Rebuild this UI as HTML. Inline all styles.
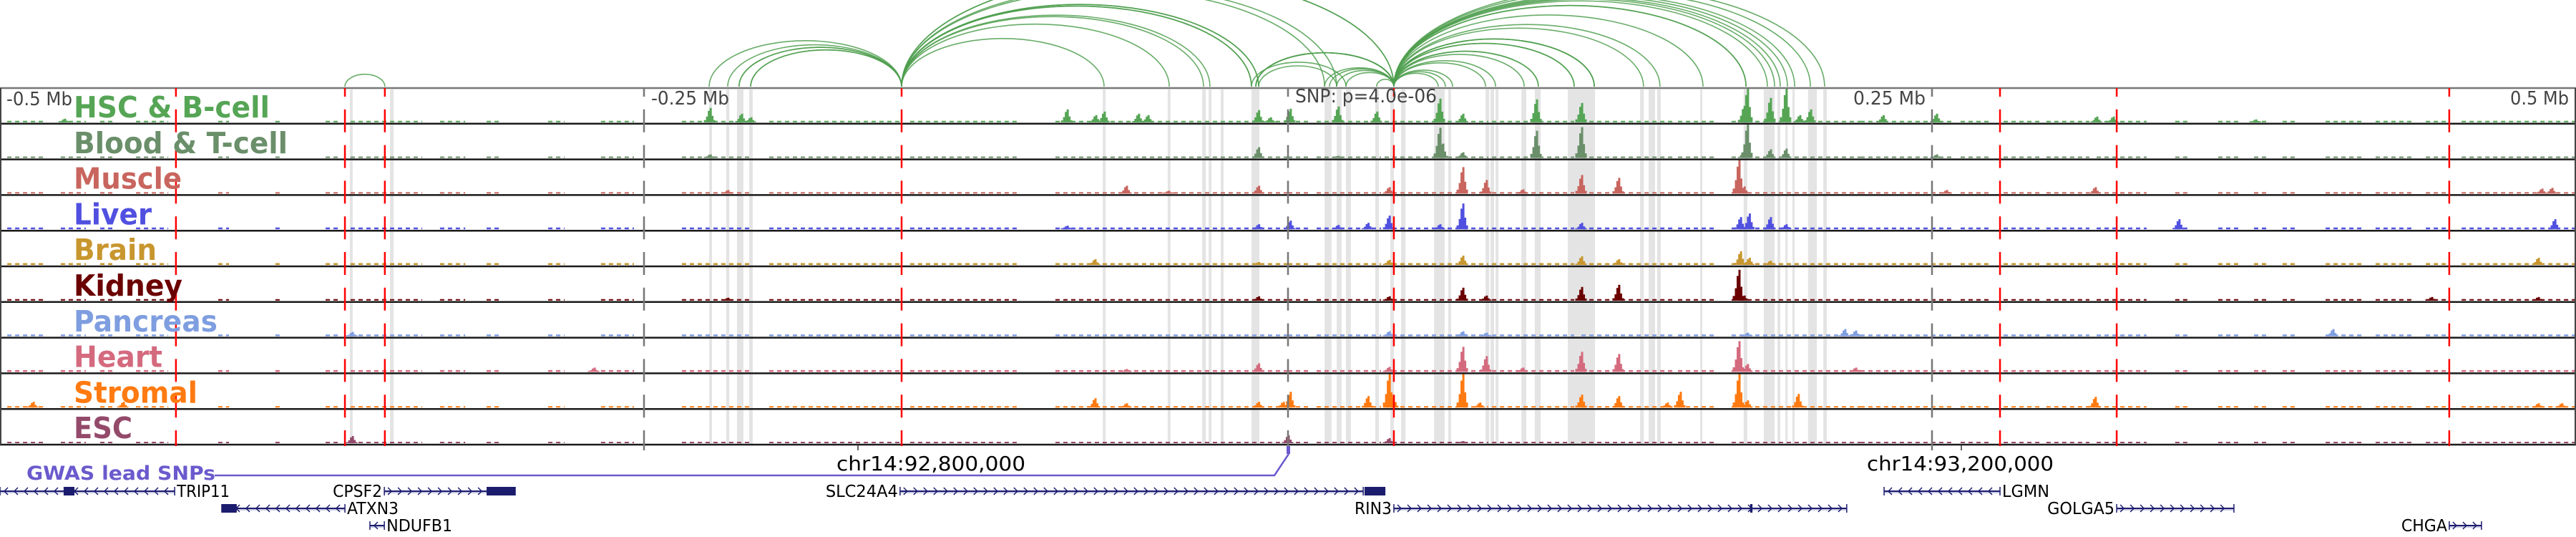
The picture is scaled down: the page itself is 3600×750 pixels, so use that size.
<!DOCTYPE html>
<html><head><meta charset="utf-8"><title>Genome browser tracks</title>
<style>
html,body{margin:0;padding:0;background:#fff;}
svg{display:block;}
.lbl{font-family:"DejaVu Sans","Liberation Sans",sans-serif;font-weight:bold;}
.ax{font-family:"DejaVu Sans Condensed","DejaVu Sans","Liberation Sans",sans-serif;fill:#444;}
.gn{font-family:"DejaVu Sans Condensed","DejaVu Sans","Liberation Sans",sans-serif;fill:#000;}
</style></head>
<body>
<svg id="chart" xmlns="http://www.w3.org/2000/svg" width="3600" height="750" viewBox="0 0 3600 750">
  <g id="arcs"></g>
  <g id="bands"></g>
  <g id="tracks"></g>
  <g id="frame"></g>
  <g id="vlines"></g>
  <g id="labels"></g>
  <g id="axis">
    <text class="ax" x="9" y="147" font-size="26" textLength="92" lengthAdjust="spacingAndGlyphs">-0.5 Mb</text>
    <text class="ax" x="910" y="146" font-size="26" textLength="109" lengthAdjust="spacingAndGlyphs">-0.25 Mb</text>
    <text class="ax" x="1810" y="143" font-size="26" textLength="198" lengthAdjust="spacingAndGlyphs">SNP: p=4.0e-06</text>
    <text class="ax" x="2590" y="146" font-size="26" textLength="101" lengthAdjust="spacingAndGlyphs">0.25 Mb</text>
    <text class="ax" x="3508" y="146" font-size="26" textLength="82" lengthAdjust="spacingAndGlyphs">0.5 Mb</text>
  </g>
  <g id="coords">
    <line x1="1199" y1="621" x2="1199" y2="629" stroke="#333" stroke-width="1.5"/>
    <text class="gn" x="1169" y="657" font-size="28" textLength="264" lengthAdjust="spacingAndGlyphs">chr14:92,800,000</text>
    <line x1="2741" y1="621" x2="2741" y2="629" stroke="#333" stroke-width="1.5"/>
    <text class="gn" x="2609" y="657" font-size="28" textLength="261" lengthAdjust="spacingAndGlyphs">chr14:93,200,000</text>
  </g>
  <g id="gwas">
    <text class="lbl" x="37" y="670" font-size="27" fill="#6a5acd" textLength="264" lengthAdjust="spacingAndGlyphs">GWAS lead SNPs</text>
    <polyline points="300,664 1781,664 1801,634" fill="none" stroke="#6a5acd" stroke-width="2.5"/>
    <rect x="1798" y="623" width="5" height="11" fill="#6a5acd"/>
  </g>
  <g id="genes"></g>
</svg>
<script>
// ---------- data ----------
const trackNames = ["HSC & B-cell","Blood & T-cell","Muscle","Liver","Brain","Kidney","Pancreas","Heart","Stromal","ESC"];
const trackColors = ["#55a555","#6a8f6a","#c8655e","#5050e0","#c8962e","#6b0000","#7f9ee0","#d46a7e","#ff7a10","#944a6a"];
const labelWidths = [274,299,151,109,116,152,201,124,173,82];
const bgLevel = [2,2,2,2.5,2.5,2,2.5,2.5,2,2];
// background signal segments (kb from SNP)
const bgSegs = [[-497.2,-483.3],[-476.4,-466.7],[-461.1,-455.6],[-447.2,-434.7],[-415.3,-411.1],[-393.1,-390.3],[-373.6,-368.3],[-363.9,-336.1],[-329.2,-319.4],[-311.1,-305.6],[-287.2,-280.8],[-266.7,-253.9],[-235.3,-208.1],[-201.4,-149.7],[-146.7,-103.9],[-90.3,0],[0,8.3],[11.1,36.1],[37.5,77.8],[79.2,111.1],[113.9,127.8],[129.2,150],[151.4,166.7],[172.2,222.2],[222.2,258.3],[261.1,272.2],[277.8,291.7],[294.4,311.1],[313.9,333.3],[344.4,350],[361.1,369.4],[375,380.6],[386.1,391.7],[402.8,416.7],[422.2,436.1],[441.7,450],[455.6,500]];
// peaks per track: [kb, height(px, max ~48)]
const peaksHSC = [[-475,5],[-224.4,20],[-212.2,12],[-208.6,7],[-85.8,18],[-74.7,10],[-71.4,15],[-58.1,12],[-54.4,10],[-11.5,17],[-6.9,7],[0.8,19],[19.4,22],[34.4,15],[58.9,33],[67.8,12],[96.4,32],[113.9,27],[177,23],[178.3,48],[187.2,34],[193.3,48],[198.6,10],[202.8,18],[231,10],[251.7,12],[313.9,8],[320.3,8],[375.6,4]];
const peaksBlood = [[-224.4,5],[-11.5,15],[19.4,3],[58.9,42],[60,20],[67.8,8],[96.4,38],[113.9,43],[177,10],[178.3,48],[187.2,12],[193.3,13],[251.7,5]];
const peaksMuscle = [[-217.5,5],[-62.8,11],[-46.4,4],[-11.5,11],[39.2,9],[67.8,37],[76.9,19],[91.1,6],[113.9,26],[128.3,22],[175,47],[177,10],[255.6,5],[313.3,9],[486.7,7],[490.6,8]];
const peaksLiver = [[-85.8,5],[-11.5,7],[0.8,12],[19.4,6],[31,9],[39.2,19],[58.9,7],[67.8,36],[113.9,9],[175.6,17],[179,22],[187.2,17],[193.3,7],[345.8,14],[491.7,14]];
const peaksBrain = [[-75,8],[-11.5,4],[39.2,7],[67.8,13],[113.9,12],[128.3,8],[175.6,19],[179,10],[187.2,6],[485.3,10]];
const peaksKidney = [[-217.5,4],[-11.5,6],[39.2,6],[67.8,18],[76.9,7],[113.9,19],[128.3,22],[175,43],[177,7],[443.9,5],[485.3,5]];
const peaksPancreas = [[-363.3,6],[39.2,7],[67.8,7],[76.9,5],[178.3,5],[216.1,10],[220.3,8],[405.6,10]];
const peaksHeart = [[-269.4,6],[-62.8,4],[-11.5,12],[39.2,7],[67.8,35],[76.9,22],[91.1,6],[113.9,28],[128.3,25],[175,43],[178.3,11],[220.3,6]];
const peaksStromal = [[-487.2,8],[-452.2,8],[-75,13],[-62.8,6],[-11.5,8],[-1.9,8],[0.8,22],[31,16],[39.2,47],[40.8,17],[67.8,47],[74.4,7],[113.9,18],[128.3,16],[147.2,7],[152.2,22],[175,47],[178.3,10],[198,19],[313.3,15],[485.3,6],[494.4,6]];
const peaksESC = [[-363.3,10],[0,11],[39.2,7],[67.8,3]];
const allPeaks = [peaksHSC,peaksBlood,peaksMuscle,peaksLiver,peaksBrain,peaksKidney,peaksPancreas,peaksHeart,peaksStromal,peaksESC];
// highlighted regions (kb)
const bands = [[-364.2,-363.1],[-348.6,-347.2],[-224.7,-223.6],[-218.1,-216.9],[-213.9,-211.4],[-209.2,-207.8],[-71.9,-70.8],[-46.7,-45.6],[-33.3,-31.9],[-30.8,-29.7],[-26.1,-25],[-14.2,-11.1],[14.2,16.9],[18.9,20.8],[22.5,24.4],[33.9,35.3],[39.7,41.1],[43.9,45.6],[56.7,60.8],[62.2,63.3],[76.7,78.1],[78.6,80],[80.6,81.7],[90.6,92.5],[95.8,98.1],[108.6,119.2],[136.7,138.1],[140,142.5],[143.3,144.7],[160,160.8],[176.9,178.3],[184.7,188.9],[190,191.1],[193.1,193.9],[195.8,196.7],[201.9,205.3],[207.8,209.2]];
// marker lines (kb)
const redLines = [-431.7,-366.1,-350.6,-150,41.1,276.4,321.7,450.8];
const grayLines = [-250,0,250];
// loops: [start kb, end kb]
const loops = [[-366.1,-350.6],
 [-224.7,-150],[-217.5,-150],[-213.1,-150],[-213.1,-150],[-208.6,-150],[-208.6,-150],
 [-150,-71.4],[-150,-46.1],[-150,-32.8],[-150,-30.3],[-150,-14.2],[-150,-14.2],[-150,-11.4],[-150,-11.4],[-150,14.2],[-150,41.1],[-150,41.1],[-150,18.9],
 [-12.5,41.1],[-12.5,41.1],[-12.5,41.1],[-12.5,41.1],[-14.2,22.5],[-11.4,18.9],[14.2,41.1],[16.1,41.1],[18.9,41.1],[22.5,41.1],[34.4,41.1],
 [41.1,58.3],[41.1,61.1],[41.1,63.9],[41.1,76.7],[41.1,80.6],[41.1,91.7],[41.1,97.2],[41.1,97.2],[41.1,111.1],[41.1,111.1],[41.1,118.9],[41.1,118.9],[41.1,118.9],[41.1,138],[41.1,144.4],[41.1,161.1],[41.1,177.8],[41.1,177.8],[41.1,186.1],[41.1,188.9],[41.1,191.1],[41.1,193.9],[41.1,196.7],[41.1,202.8],[41.1,208.3]];
// genes
const geneNames = ["TRIP11","CPSF2","ATXN3","NDUFB1","SLC24A4","RIN3","LGMN","GOLGA5","CHGA"];
const geneStart = [-500,-350.8,-413.9,-356.4,-150.6,41.1,231.4,321.7,450.8];
const geneEnd = [-432.2,-300,-366.1,-350.8,29.2,216.9,276.4,367.2,463.3];
const geneStrand = [-1,1,-1,-1,1,1,-1,1,1];
const geneRow = [0,0,1,2,0,1,0,1,2];
const geneLabelSide = ["right","left","right","right","left","left","right","left","left"];
const geneLabelW = [74,69,72,92,101,52,66,94,64];
const geneExons = [[[-475.3,-471.1]],[[-311.1,-300]],[[-413.9,-408.1]],[],[[29.7,37.8]],[[179.4,180.3]],[],[],[]];

// ---------- scales ----------
const NS = "http://www.w3.org/2000/svg";
const X = kb => 1800 + kb * 3.6;
const TOP = 123, TH = 49.8;
const trackTop = i => TOP + TH * i;
function mk(tag, attrs, parent){ const e=document.createElementNS(NS,tag); for(const k in attrs) e.setAttribute(k,attrs[k]); parent.appendChild(e); return e; }

// arcs
const gA = document.getElementById("arcs");
loops.forEach((lp) => {
  const x1 = X(lp[0]), x2 = X(lp[1]);
  const span = x2 - x1, rx = span/2, ry = 0.22*span + 5;
  const p = mk("path",{d:`M${x1},121 A${rx},${ry} 0 0 1 ${x2},121`,fill:"none",stroke:"#4f9f4f","stroke-width":"1.6","stroke-opacity":"0.85"},gA);
  
  
});

// bands
const gB = document.getElementById("bands");
bands.forEach(b => {
  const r = mk("rect",{x:X(b[0]),y:125,width:Math.max(3,X(b[1])-X(b[0])),height:496,fill:"#e4e4e4"},gB);
  
  
});

// tracks
const gT = document.getElementById("tracks");
allPeaks.forEach((peaks, i) => {
  const base = trackTop(i) + TH - 2;
  const col = trackColors[i];
  const g = mk("g",{},gT);
  
  
  bgSegs.forEach(s => {
    const l = mk("line",{x1:X(s[0]),x2:X(s[1]),y1:base-bgLevel[i]/2,y2:base-bgLevel[i]/2,stroke:col,"stroke-width":bgLevel[i],"stroke-dasharray":"6 5"},g);
    
    
  });
  peaks.forEach(pk => {
    const cx = X(pk[0]), h = Math.min(pk[1], 47.5);
    const shape = [[-7,0.15],[-4,0.4],[-1.5,0.8],[1,1],[3.5,0.45],[6,0.15]];
    shape.forEach(sp => {
      const hh = Math.max(1.5, h*sp[1]);
      const r = mk("rect",{x:cx+sp[0]-1.5,y:base-hh,width:3,height:hh,fill:col},g);
      
      
    });
  });
});

// frame
const gF = document.getElementById("frame");
const topLine = mk("line",{x1:0,x2:3600,y1:TOP,y2:TOP,stroke:"#777","stroke-width":"2.5"},gF);


for (let i=0;i<10;i++){
  const y = trackTop(i+1);
  const l = mk("line",{x1:0,x2:3600,y1:y,y2:y,stroke:"#1a1a1a","stroke-width":"2.5"},gF);
  
  
}
const lb = mk("line",{x1:1,x2:1,y1:TOP,y2:trackTop(10),stroke:"#444","stroke-width":"2"},gF);


const rb = mk("line",{x1:3599,x2:3599,y1:TOP,y2:trackTop(10),stroke:"#444","stroke-width":"2"},gF);



// vertical dashed lines
const gV = document.getElementById("vlines");
grayLines.forEach(k => {
  const l = mk("line",{x1:X(k),x2:X(k),y1:TOP,y2:trackTop(10)+8,stroke:"#777","stroke-width":"2.5","stroke-dasharray":"32 17.8","stroke-dashoffset":"20"},gV);
  
  
});
redLines.forEach(k => {
  const l = mk("line",{x1:X(k),x2:X(k),y1:TOP,y2:trackTop(10)+2,stroke:"#ff0000","stroke-width":"2.5","stroke-dasharray":"32 17.8","stroke-dashoffset":"20"},gV);
  
  
});

// labels
const gL = document.getElementById("labels");
trackNames.forEach((n,i) => {
  const t = mk("text",{x:103,y:trackTop(i)+41,"font-size":"41",fill:trackColors[i],class:"lbl",textLength:labelWidths[i],lengthAdjust:"spacingAndGlyphs"},gL);
  t.textContent = n;
  
  
});

// genes
const gG = document.getElementById("genes");
const rowY = [686,710,734];
geneNames.forEach((n,i) => {
  const y = rowY[geneRow[i]];
  const x1 = Math.max(0,X(geneStart[i])), x2 = X(geneEnd[i]);
  const g = mk("g",{},gG);
  
  
  mk("line",{x1:x1,x2:x2,y1:y,y2:y,stroke:"#1c1c6e","stroke-width":"2"},g);
  mk("line",{x1:x1,x2:x2,y1:y+2,y2:y+2,stroke:"#8f8fc8","stroke-width":"1"},g);
  let d = "";
  for (let cx = x1+8; cx < x2-4; cx += 14) {
    if (geneStrand[i] > 0) d += `M${cx-3},${y-5} L${cx+2},${y} L${cx-3},${y+5} `;
    else d += `M${cx+3},${y-5} L${cx-2},${y} L${cx+3},${y+5} `;
  }
  mk("path",{d:d,fill:"none",stroke:"#1c1c6e","stroke-width":"1.5"},g);
  mk("line",{x1:x1,x2:x1,y1:y-6,y2:y+6,stroke:"#1c1c6e","stroke-width":"1.5"},g);
  mk("line",{x1:x2,x2:x2,y1:y-6,y2:y+6,stroke:"#1c1c6e","stroke-width":"1.5"},g);
  geneExons[i].forEach(ex => {
    mk("rect",{x:X(ex[0]),y:y-6,width:X(ex[1])-X(ex[0]),height:12,fill:"#1c1c6e"},g);
  });
  const tx = geneLabelSide[i]==="right" ? x2+3 : X(geneStart[i])-3-geneLabelW[i];
  const t = mk("text",{x:tx,y:y+8,"font-size":"23",class:"gn",textLength:geneLabelW[i],lengthAdjust:"spacingAndGlyphs"},g);
  t.textContent = n;
  
  
});
</script>
</body></html>
